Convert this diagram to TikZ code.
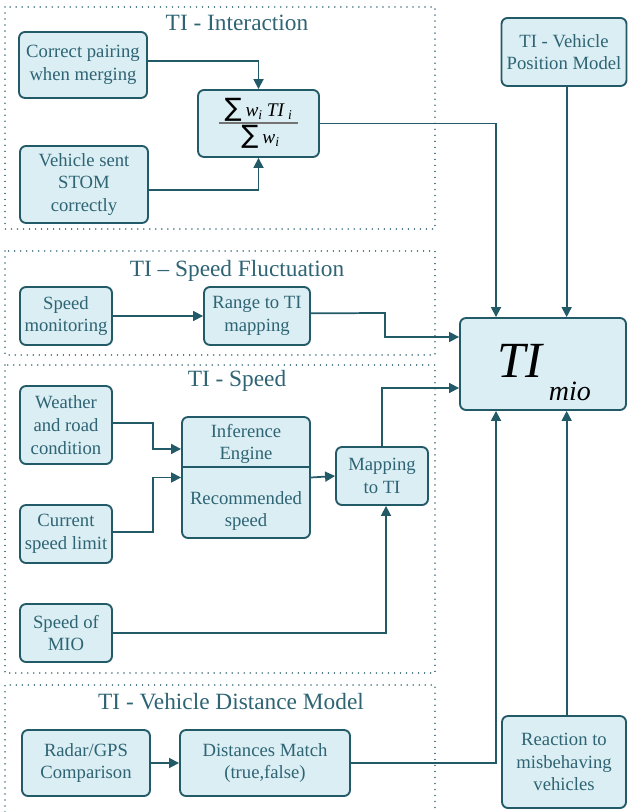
\documentclass[tikz,border=0pt]{standalone}
\usepackage{fontspec}
\setmainfont{Liberation Serif}
\newfontfamily\dvsym{DejaVu Sans}
\usetikzlibrary{arrows.meta}
\definecolor{boxfill}{HTML}{DAEEF3}
\definecolor{edge}{HTML}{235A68}
\definecolor{txt}{HTML}{2E6474}
\newcommand{\sumsign}{{\dvsym\fontsize{19}{19}\selectfont ∑}}
\begin{document}
\begin{tikzpicture}[x=0.75pt,y=-0.75pt,
  box/.style={draw=edge,fill=boxfill,line width=1.4pt,rounded corners=4.5pt,text=txt,align=center,font=\fontsize{14}{17}\selectfont,inner sep=0pt},
  sz/.style 2 args={minimum width=#1*0.75pt,minimum height=#2*0.75pt},
  arr/.style={draw=edge,line width=1.3pt,-{Triangle[length=7.5pt,width=7.5pt]}},
  ln/.style={draw=edge,line width=1.3pt},
  frame/.style={draw=edge!85,line width=1.2pt,dash pattern=on 0.01pt off 4.5pt,line cap=round},
  ttl/.style={text=txt,font=\fontsize{17.5}{20}\selectfont,inner sep=0pt},
  plain/.style={text=txt,align=center,font=\fontsize{14}{17}\selectfont,inner sep=0pt},
  formula/.style={text=black,inner sep=0pt,font=\fontsize{14.5}{16}\selectfont\itshape}]
\useasboundingbox (0,0) rectangle (627,812);

% dotted frames
\draw[frame] (5,7) rectangle (435,229);
\draw[frame] (5,251) rectangle (435,355);
\draw[frame] (5,365) rectangle (435,673);
\draw[frame] (5,812) -- (5,685) -- (435,685) -- (435,812);

% titles
\node[ttl] (t1) at (237,23) {TI - Interaction};
\node[ttl] (t2) at (237,271) {TI -- Speed Fluctuation};
\node[ttl] (t3) at (237,381) {TI - Speed};
\node[ttl] (t4) at (231,702) {TI - Vehicle Distance Model};

% TI - Interaction
\node[box,sz={128}{66}] (cp) at (83,65) {Correct pairing\\when merging};
\node[box,sz={128}{77}] (stom) at (84,184.5) {Vehicle sent\\STOM\\correctly};
\node[box,sz={121}{67}] (sum) at (258.5,123.5) {};
\node[formula,anchor=base] (num) at (258.5,117) {\sumsign\hspace{3pt}w\textsubscript{i}\hspace{3pt}TI\hspace{3pt}\textsubscript{i}};
\node[formula,anchor=base] (den) at (260.5,144) {\sumsign\hspace{3pt}w\textsubscript{i}};
\draw[draw=black!55,line width=1.3pt] (219,123) -- (298,123);

% right column
\node[box,sz={125}{68}] (vpm) at (564,52) {TI - Vehicle\\Position Model};
\node[box,sz={166}{92}] (mio) at (543,364) {};
\node[anchor=base west,inner sep=0pt,text=black,font=\fontsize{38}{40}\selectfont\itshape] (miot) at (497,377)
  {TI\hspace{5pt}\raisebox{-17.25pt}{\fontsize{21}{24}\selectfont mio}};
\node[box,sz={124}{92}] (rmv) at (564,762) {Reaction to\\misbehaving\\vehicles};

% Speed fluctuation
\node[box,sz={92}{58}] (sm) at (66,316) {Speed\\monitoring};
\node[box,sz={106}{58}] (rtm) at (257,316) {Range to TI\\mapping};

% Speed
\node[box,sz={92}{78}] (wr) at (66,425) {Weather\\and road\\condition};
\node[box,sz={92}{58}] (csl) at (66,534) {Current\\speed limit};
\node[box,sz={92}{58}] (smio) at (66,633) {Speed of\\MIO};
\node[box,sz={128}{121}] (ie) at (246,477.5) {};
\draw[ln] (ie.west |- 0,467) -- (ie.east |- 0,467);
\node[plain] (iet) at (246,444) {Inference\\Engine};
\node[plain] (ieb) at (246,511) {Recommended\\speed};
\node[box,sz={92}{58}] (mtt) at (382,476) {Mapping\\to TI};

% Vehicle distance
\node[box,sz={128}{66}] (rgc) at (86,763) {Radar/GPS\\Comparison};
\node[box,sz={170}{66}] (dm) at (265,763) {Distances Match\\(true,false)};

% connectors
\draw[arr] ([yshift=3pt]cp.east) -| (sum.north);
\draw[arr] ([yshift=-4pt]stom.east) -| (sum.south);
\draw[arr] (sum.east) -| ([xshift=-35.25pt]mio.north);
\draw[arr] ([xshift=2pt]vpm.south) -- ([xshift=2pt]vpm.south |- mio.north);

\draw[arr] (sm.east) -- (rtm.west);
\draw[arr] ([yshift=2pt]rtm.east) -- (385,313) |- ([yshift=20.25pt]mio.west);

\draw[arr] ([yshift=1.5pt]wr.east) -- (153,423) |- ([yshift=21.4pt]ie.west);
\draw[arr] ([yshift=1.5pt]csl.east) -- (153,532) |- (ie.west);
\draw[arr] (ie.east) -- (mtt.west);
\draw[arr] (mtt.north) |- ([yshift=-18pt]mio.west);
\draw[arr] (smio.east) -| ([xshift=3pt]mtt.south);

\draw[arr] (rgc.east) -- (dm.west);
\draw[arr] (dm.east) -| ([xshift=-35.25pt]mio.south);
\draw[arr] ([xshift=2pt]rmv.north) -- ([xshift=2pt]rmv.north |- mio.south);
\end{tikzpicture}
\end{document}
